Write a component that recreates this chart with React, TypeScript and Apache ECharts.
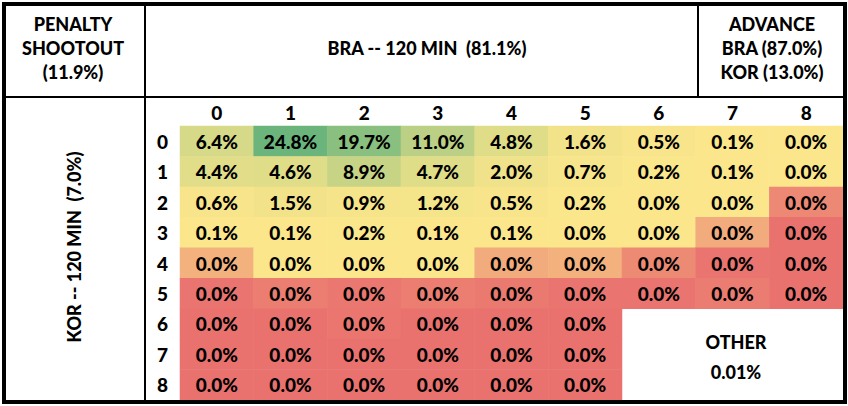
import React, { useEffect, useRef } from "react";
import * as echarts from "echarts";

const braGoals = ["0", "1", "2", "3", "4", "5", "6", "7", "8"];
const korGoals = ["0", "1", "2", "3", "4", "5", "6", "7", "8"];

// Probabilities (%) — rows: KOR goals, cols: BRA goals. Tiny values are estimates (display 0.0%).
const row0 = [6.4, 24.8, 19.7, 11.0, 4.8, 1.6, 0.5, 0.1, 0.035];
const row1 = [4.4, 4.6, 8.9, 4.7, 2.0, 0.7, 0.2, 0.1, 0.03];
const row2 = [0.6, 1.5, 0.9, 1.2, 0.5, 0.2, 0.035, 0.03, 0.004];
const row3 = [0.1, 0.1, 0.2, 0.1, 0.1, 0.035, 0.03, 0.01, 0.0004];
const row4 = [0.011, 0.03, 0.028, 0.025, 0.01, 0.011, 0.0044, 0.0006, 0.0004];
const row5 = [0.0006, 0.0024, 0.0012, 0.0024, 0.0016, 0.0006, 0.0006, 0.002, 0.0004];
const row6 = [0.0004, 0.0004, 0.001, 0.0004, 0.0004, 0.0004];
const row7 = [0.0004, 0.0004, 0.0004, 0.0004, 0.0004, 0.0004];
const row8 = [0.0004, 0.0004, 0.0004, 0.0004, 0.0004, 0.0004];
const gridRows = [row0, row1, row2, row3, row4, row5, row6, row7, row8];

const COLOR_MID = 0.02; // colour-scale midpoint (%)

const headerLeft = ["PENALTY", "SHOOTOUT", "(11.9%)"];
const headerMain = "BRA -- 120 MIN  (81.1%)";
const headerRight = ["ADVANCE", "BRA (87.0%)", "KOR (13.0%)"];
const sideLabel = "KOR -- 120 MIN  (7.0%)";
const otherLabel = ["OTHER", "0.01%"];

const FONT = "Lato, 'Open Sans', sans-serif";
const W = 900;

export default function App() {
  const ref = useRef<HTMLDivElement>(null);
  useEffect(() => {
    if (!ref.current) return;
    const chart = echarts.init(ref.current, undefined, { renderer: "svg" });
    let max = 0;
    gridRows.forEach((r) => r.forEach((v) => (max = Math.max(max, v))));
    const data: any[] = [];
    gridRows.forEach((r, y) =>
      r.forEach((v, x) => {
        const t = v < COLOR_MID ? (0.5 * v) / COLOR_MID : 0.5 + (0.5 * (v - COLOR_MID)) / (max - COLOR_MID);
        data.push([x, y, v, t]);
      })
    );
    const txt = (text: string, x: number, y: number, size = 18, extra: any = {}) => ({
      type: "text",
      x,
      y,
      ...extra,
      style: {
        text,
        font: `${W} ${size}px ${FONT}`,
        fill: "#000",
        textAlign: "center",
        textVerticalAlign: "middle",
      },
    });
    const line = (x1: number, y1: number, x2: number, y2: number, w: number) => ({
      type: "line",
      shape: { x1, y1, x2, y2 },
      style: { stroke: "#000", lineWidth: w },
      z: 100,
    });
    chart.setOption({
      animation: false,
      backgroundColor: "#fff",
      grid: { left: 180, right: 5, top: 126, bottom: 6 },
      xAxis: {
        type: "category",
        data: braGoals,
        position: "top",
        axisLine: { show: false },
        axisTick: { show: false },
        splitLine: { show: false },
        axisLabel: { fontFamily: FONT, fontWeight: W, fontSize: 19, color: "#000", margin: 4 },
      },
      yAxis: {
        type: "category",
        data: korGoals,
        inverse: true,
        axisLine: { show: false },
        axisTick: { show: false },
        splitLine: { show: false },
        axisLabel: { fontFamily: FONT, fontWeight: W, fontSize: 19, color: "#000", margin: 12 },
      },
      visualMap: {
        show: false,
        type: "continuous",
        dimension: 3,
        min: 0,
        max: 1,
        inRange: { color: ["#E9706E", "#FBE68B", "#6BB57C"] },
      },
      series: [
        {
          type: "heatmap",
          data,
          itemStyle: { borderWidth: 0 },
          emphasis: { disabled: true },
          label: {
            show: true,
            fontFamily: FONT,
            fontWeight: W,
            fontSize: 19,
            color: "#000",
            formatter: (p: any) => p.value[2].toFixed(1) + "%",
          },
        },
      ],
      graphic: [
        {
          type: "rect",
          shape: { x: 4, y: 4, width: 841, height: 398 },
          style: { fill: "none", stroke: "#000", lineWidth: 4 },
          z: 100,
        },
        line(145, 4, 145, 402, 2),
        line(4, 97, 845, 97, 2),
        line(698, 4, 698, 97, 2),
        ...headerLeft.map((s, i) => txt(s, 73, 23.5 + i * 24)),
        txt(headerMain, 427, 47.5),
        ...headerRight.map((s, i) => txt(s, 772, 23.5 + i * 24)),
        txt(sideLabel, 74, 247, 18, { rotation: Math.PI / 2 }),
        ...otherLabel.map((s, i) => txt(s, 736, 342 + i * 30)),
      ],
    });
    return () => chart.dispose();
  }, []);
  return <div ref={ref} style={{ position: "fixed", left: 0, top: 0, width: 848, height: 406 }} />;
}
